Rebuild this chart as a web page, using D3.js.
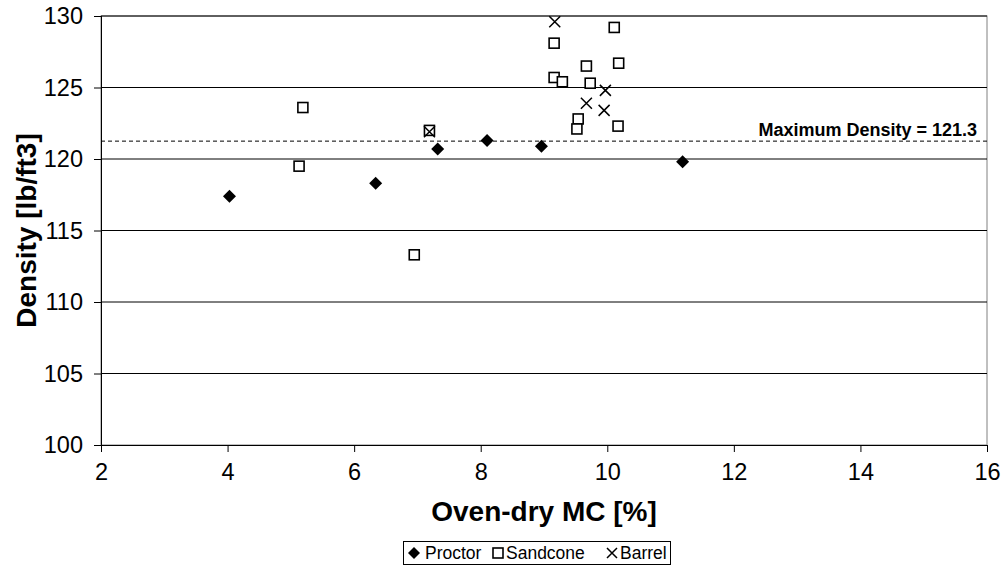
<!DOCTYPE html>
<html>
<head>
<meta charset="utf-8">
<script src="https://cdn.jsdelivr.net/npm/d3@7"></script>
<style>
  body { margin: 0; background: #fff; }
  svg { font-family: "Liberation Sans", Arial, sans-serif; }
  .axis text { font-size: 23.5px; fill: #000; }
  .axis path, .axis line { stroke: #000; }
</style>
</head>
<body>
<div id="chart"></div>
<script>
// readings from the picture: [moisture %, density lb/ft3]
var proctor = [[4.03, 117.4], [6.34, 118.3], [7.32, 120.7], [8.10, 121.3], [8.96, 120.9], [11.19, 119.8]];
var sandcone = [[5.13, 119.5], [5.19, 123.6], [6.95, 113.3], [7.19, 122.0], [9.16, 128.1], [10.11, 129.2],
                [9.67, 126.5], [10.18, 126.7], [9.16, 125.7], [9.29, 125.4], [9.73, 125.3], [9.54, 122.8],
                [9.52, 122.1], [10.17, 122.3]];
var barrel = [[9.17, 129.6], [7.19, 121.9], [9.97, 124.8], [9.67, 123.9], [9.95, 123.4]];
var xTicks = [2, 4, 6, 8, 10, 12, 14, 16];
var yTicks = [100, 105, 110, 115, 120, 125, 130];
var maxDensity = 121.25;
var maxLabel = "Maximum Density = 121.3";
var legendNames = ["Proctor", "Sandcone", "Barrel"];

var W = 1005, H = 571;
var margin = {top: 16, right: 18, bottom: 126, left: 101};
var width = W - margin.left - margin.right,
    height = H - margin.top - margin.bottom;

var svg = d3.select("#chart").append("svg")
    .attr("width", W)
    .attr("height", H);

var x = d3.scaleLinear().domain([2, 16]).range([0, width]);
var y = d3.scaleLinear().domain([100, 130]).range([height, 0]);

var main = svg.append("g")
    .attr("transform", "translate(" + margin.left + "," + margin.top + ")");

// plot area border
main.append("rect")
    .attr("width", width).attr("height", height)
    .attr("fill", "none").attr("stroke", "#808080");

// gridlines
main.selectAll("line.grid")
    .data(yTicks.filter(d => d > 100))
    .enter().append("line")
    .attr("class", "grid")
    .attr("x1", 0).attr("x2", width)
    .attr("y1", d => y(d)).attr("y2", d => y(d))
    .attr("stroke", "#000");

// max density line
main.append("line")
    .attr("x1", 0).attr("x2", width)
    .attr("y1", y(maxDensity)).attr("y2", y(maxDensity))
    .attr("stroke", "#000")
    .attr("stroke-dasharray", "4,3");

main.append("text")
    .attr("x", width - 10)
    .attr("y", y(maxDensity) - 5)
    .attr("text-anchor", "end")
    .attr("font-size", "18px")
    .attr("font-weight", "bold")
    .text(maxLabel);

// axes
var xAxis = d3.axisBottom(x).tickValues(xTicks).tickSize(7).tickPadding(11);
main.append("g")
    .attr("class", "axis")
    .attr("transform", "translate(0," + height + ")")
    .call(xAxis)
    .call(g => g.select(".domain").attr("d", "M0,0.5H" + width));

var yAxis = d3.axisLeft(y).tickValues(yTicks).tickSize(7).tickPadding(11);
main.append("g")
    .attr("class", "axis")
    .call(yAxis)
    .call(g => g.select(".domain").attr("d", "M0.5,0V" + height));

// axis titles
svg.append("text")
    .attr("x", margin.left + width / 2)
    .attr("y", 521)
    .attr("text-anchor", "middle")
    .attr("font-size", "28px")
    .attr("font-weight", "bold")
    .text("Oven-dry MC [%]");

svg.append("text")
    .attr("transform", "translate(36," + (margin.top + height / 2) + ") rotate(-90)")
    .attr("text-anchor", "middle")
    .attr("font-size", "28px")
    .attr("font-weight", "bold")
    .text("Density [lb/ft3]");

// marker shapes
function diamond(g, s) {
    g.append("path")
        .attr("d", "M0," + (-s) + "L" + s + ",0L0," + s + "L" + (-s) + ",0Z")
        .attr("fill", "#000");
}
function square(g, s) {
    g.append("rect")
        .attr("x", -s).attr("y", -s).attr("width", 2 * s).attr("height", 2 * s)
        .attr("fill", "#fff").attr("stroke", "#000").attr("stroke-width", 1.6);
}
function cross(g, s) {
    g.append("path")
        .attr("d", "M" + (-s) + "," + (-s) + "L" + s + "," + s + "M" + (-s) + "," + s + "L" + s + "," + (-s))
        .attr("fill", "none").attr("stroke", "#000").attr("stroke-width", 1.5);
}

function plotSeries(data, shape, s) {
    main.append("g").selectAll("g")
        .data(data)
        .enter().append("g")
        .attr("transform", d => "translate(" + x(d[0]) + "," + y(d[1]) + ")")
        .each(function () { shape(d3.select(this), s); });
}

plotSeries(proctor, diamond, 6.5);
plotSeries(sandcone, square, 5);
plotSeries(barrel, cross, 5.5);

// legend
var legend = svg.append("g");
legend.append("rect")
    .attr("x", 403.5).attr("y", 541.5)
    .attr("width", 267).attr("height", 23)
    .attr("fill", "#fff").attr("stroke", "#000");

var legendShapes = [diamond, square, cross];
var legendSizes = [6, 5, 5];
var legendX = [414, 498, 612];
var legendTextX = [425, 506, 620];
legendNames.forEach(function (name, i) {
    var g = legend.append("g").attr("transform", "translate(" + legendX[i] + ",553)");
    legendShapes[i](g, legendSizes[i]);
    legend.append("text")
        .attr("x", legendTextX[i])
        .attr("y", 559)
        .attr("font-size", "17.5px")
        .text(name);
});
</script>
</body>
</html>
